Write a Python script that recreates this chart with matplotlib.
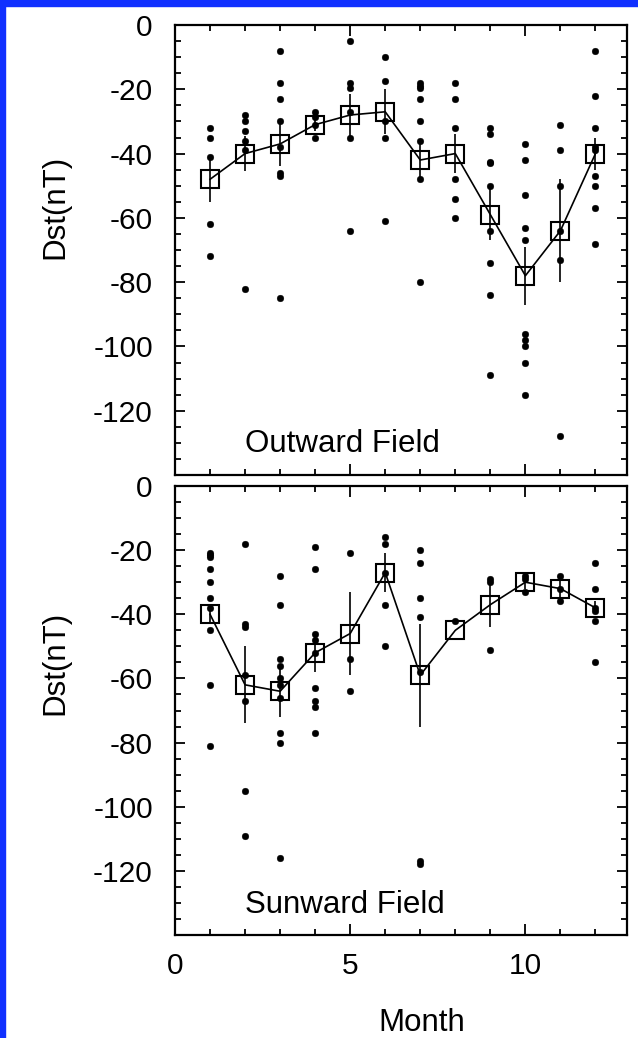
import matplotlib
matplotlib.use("Agg")
import matplotlib.pyplot as plt
from matplotlib.patches import Rectangle
from matplotlib.ticker import MultipleLocator

# Monthly Dst statistics for the two IMF sectors
months = list(range(1, 13))

outward_events = [
    [-32, -35, -41, -62, -72],
    [-28, -30, -33, -36, -39, -82],
    [-8, -18, -23, -30, -38, -46, -47, -85],
    [-27, -28.5, -31, -35],
    [-5, -18, -19.5, -27, -35, -64],
    [-10, -17.5, -30, -35, -61],
    [-18, -19, -19.5, -23, -30, -36, -48, -80],
    [-18, -23, -32, -48, -54, -60],
    [-32, -34, -42.5, -43, -50, -64, -74, -84, -109],
    [-37, -42, -53, -63, -67, -96, -98, -100, -105, -115],
    [-31, -39, -50, -64, -73, -128],
    [-8, -22, -32, -38, -39, -47, -50, -57, -68],
]
outward_mean = [-48, -40, -37, -31, -28, -27, -42, -40, -59, -78, -64, -40]
outward_err = [7, 5.5, 7, 2, 6.5, 7, 6, 6, 8, 9, 16, 5]

sunward_events = [
    [-21, -21.5, -22, -26, -30, -35, -38, -45, -62, -81],
    [-18, -43, -44, -59, -67, -95, -109],
    [-28, -37, -54, -56, -60, -62, -66, -77, -80, -116],
    [-19, -26, -46, -48, -52, -63, -67, -69, -77],
    [-21, -54, -64],
    [-16, -18, -27, -37, -50],
    [-20, -24, -35, -41, -58, -117, -118],
    [-42],
    [-29, -30, -51],
    [-28, -29, -33],
    [-28, -32, -36],
    [-24, -32, -38, -39, -42, -55],
]
sunward_mean = [-40, -62, -64, -52, -46, -27, -59, -45, -37, -30, -32, -38]
sunward_err = [3, 12, 8, 6, 13, 6, 16, 0, 7, 2, 3.5, 2]

panel_titles = ["Outward Field", "Sunward Field"]
y_ticks = [0, -20, -40, -60, -80, -100, -120]
x_ticks = [0, 5, 10]

plt.rcParams["font.family"] = ["Liberation Sans", "DejaVu Sans"]
plt.rcParams["axes.unicode_minus"] = False

W, H = 638, 1038
fig = plt.figure(figsize=(W / 100, H / 100), dpi=100)

# blue frame strips along the top and left edges
fig.patches.append(Rectangle((0, 1 - 5.5 / H), 1, 5.5 / H, transform=fig.transFigure,
                             color="#1030ff", zorder=0))
fig.patches.append(Rectangle((0, 0), 5 / W, 1, transform=fig.transFigure,
                             color="#1030ff", zorder=0))

left, width = 175 / W, 452 / W
ax_top = fig.add_axes([left, 1 - 475 / H, width, 450 / H])
ax_bot = fig.add_axes([left, 1 - 935 / H, width, 449 / H])

TICK_FS = 21.5
LABEL_FS = 22.5

for ax, events, mean, err, title, lab_y in [
    (ax_top, outward_events, outward_mean, outward_err, panel_titles[0], 0.595),
    (ax_bot, sunward_events, sunward_mean, sunward_err, panel_titles[1], 0.605),
]:
    for m, vals in zip(months, events):
        ax.plot([m] * len(vals), vals, "o", color="black", markersize=4.8,
                markeredgewidth=0.3, zorder=3)
    ax.errorbar(months, mean, yerr=err, fmt="none", ecolor="black",
                elinewidth=1.2, capsize=0, zorder=2)
    ax.plot(months, mean, "-", color="black", linewidth=1.2, zorder=2)
    ax.plot(months, mean, "s", markersize=12.5, markerfacecolor="none",
            markeredgecolor="black", markeredgewidth=1.5, zorder=4)

    ax.set_xlim(0, 12.9)
    ax.set_ylim(-140, 0)
    ax.set_yticks(y_ticks)
    ax.yaxis.set_minor_locator(MultipleLocator(5))
    ax.set_xticks(x_ticks)
    ax.xaxis.set_minor_locator(MultipleLocator(1))
    ax.tick_params(which="both", direction="in", top=True, right=True,
                   labelsize=TICK_FS, width=1.3)
    ax.tick_params(axis="y", which="major", length=7, pad=16)
    ax.tick_params(axis="y", which="minor", length=4)
    ax.tick_params(axis="x", which="major", length=8, pad=12)
    ax.tick_params(axis="x", which="minor", length=4)
    for sp in ax.spines.values():
        sp.set_linewidth(1.6)

    ax.set_ylabel("Dst(nT)", fontsize=LABEL_FS)
    ax.yaxis.set_label_coords(-0.232, lab_y)
    ax.text(2.0, -133, title, fontsize=LABEL_FS, ha="left", va="baseline")

ax_top.tick_params(axis="x", labelbottom=False)
ax_bot.set_xlabel("Month", fontsize=LABEL_FS)
ax_bot.xaxis.set_label_coords(0.545, -0.162)

fig.savefig("out.png", dpi=100)
